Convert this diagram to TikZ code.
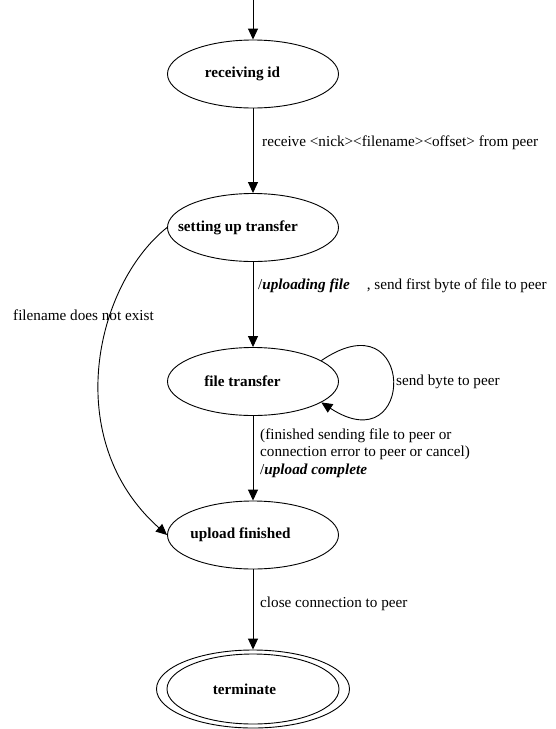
\documentclass[tikz,border=0pt]{standalone}
\usepackage{fontspec}
\setmainfont{Liberation Serif}
\usetikzlibrary{shapes.geometric,arrows.meta}
% state name set a little left of the ellipse centre: #1 = twice the offset
\newcommand\statename[2]{\makebox[0pt][c]{#2\hspace*{#1}}}
\begin{document}
\begin{tikzpicture}[x=1pt,y=-1pt,
  state/.style={ellipse,draw,line width=0.9pt,inner sep=0pt,
    minimum width=171pt,minimum height=68pt,
    font=\fontsize{15.2}{18}\selectfont\bfseries},
  ring/.style={ellipse,draw,line width=0.9pt,inner sep=0pt,
    minimum width=193pt,minimum height=78pt},
  edge/.style={line width=0.9pt,-{Triangle[length=11pt,width=10pt]}},
  lbl/.style={anchor=west,inner sep=0pt,align=left,
    font=\fontsize{15.2}{17.5}\selectfont}]
\useasboundingbox (0,0) rectangle (555,729);

% states
\node[state] (recv)  at (253,74)    {\statename{21pt}{receiving id}};
\node[state] (setup) at (253,227.5) {\statename{30pt}{setting up transfer}};
\node[state] (ft)    at (253,381.5) {\statename{21pt}{file transfer}};
\node[state] (upfin) at (253,535)   {\statename{25pt}{upload finished}};
\node[state,minimum width=172pt,minimum height=70pt] (term) at (253,689) {\statename{17pt}{terminate}};
\node[ring] (termring) at (253,689) {};

% entry point
\coordinate (entry) at (253,0);
\draw[edge] (entry) -- (recv);

% transitions
\draw[edge] (recv) -- (setup);
\draw[edge] (setup) -- (ft);
\draw[edge] (ft) -- (upfin);
\draw[edge] (upfin) -- (termring);
\draw[edge] (setup.west) .. controls (95,285) and (60,440) .. (upfin.west);
\draw[edge] (ft.17) .. controls +(95,-65) and +(95,62) .. (ft.-17);

% transition labels
\node[lbl] (l1) at (262,143) {receive <nick><filename><offset> from peer};
\node[lbl] (l2) at (258,286) {/\textbf{\textit{uploading file}}\hspace{17pt}, send first byte of file to peer};
\node[lbl] (l3) at (13,315) {filename does not exist};
\node[lbl] (l4) at (396,382) {send byte to peer};
\node[lbl] (l5) at (260,453) {(finished sending file to peer or\\connection error to peer or cancel)\\/\textbf{\textit{upload complete}}};
\node[lbl] (l6) at (260,604) {close connection to peer};
\end{tikzpicture}
\end{document}
